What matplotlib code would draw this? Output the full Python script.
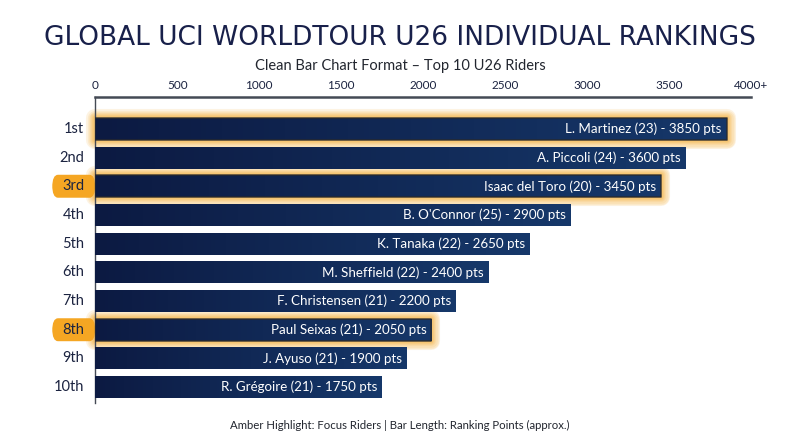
import matplotlib
matplotlib.use("Agg")
import matplotlib.pyplot as plt
import numpy as np
from matplotlib.patches import FancyBboxPatch, Rectangle
from matplotlib.colors import LinearSegmentedColormap

ranks = ["1st", "2nd", "3rd", "4th", "5th", "6th", "7th", "8th", "9th", "10th"]
riders = ["L. Martinez", "A. Piccoli", "Isaac del Toro", "B. O'Connor", "K. Tanaka",
          "M. Sheffield", "F. Christensen", "Paul Seixas", "J. Ayuso", "R. Grégoire"]
ages = [23, 24, 20, 25, 22, 22, 21, 21, 21, 21]
points = [3850, 3600, 3450, 2900, 2650, 2400, 2200, 2050, 1900, 1750]
glow = [True, False, True, False, False, False, False, True, False, False]
label_box = [False, False, True, False, False, False, False, True, False, False]
xticks = [0, 500, 1000, 1500, 2000, 2500, 3000, 3500, 4000]
xticklabels = ["0", "500", "1000", "1500", "2000", "2500", "3000", "3500", "4000+"]

NAVY = "#1b2340"
AMBER = "#f5a623"
FONT = ["Lato", "DejaVu Sans"]

fig = plt.figure(figsize=(8, 4.47), dpi=100)
fig.patch.set_facecolor("white")
ax = fig.add_axes([0.119, 0.098, 0.820, 0.685])
n = len(ranks)
XLIM = (0, 4000)
YLIM = (n - 1 + 0.56, -1.11)

bh = 0.77
grad = np.linspace(0, 1, 256).reshape(1, -1)
cmap = LinearSegmentedColormap.from_list("g", ["#0c1a42", "#16386a"])

for i, (p, h) in enumerate(zip(points, glow)):
    if h:
        widths = [13, 11, 9, 7, 5.5, 4, 3]
        for k, lw in enumerate(widths):
            r = Rectangle((0, i - bh / 2), p, bh, facecolor="none", edgecolor=AMBER,
                          linewidth=lw, alpha=0.13, zorder=2, clip_on=False,
                          joinstyle="round")
            ax.add_patch(r)
    rect = Rectangle((0, i - bh / 2), p, bh, facecolor="none", edgecolor="none", zorder=3)
    ax.add_patch(rect)
    im = ax.imshow(grad, extent=(0, p, i + bh / 2, i - bh / 2), cmap=cmap,
                   aspect="auto", zorder=3, interpolation="bicubic")
    im.set_clip_path(rect)
    if h:
        ax.add_patch(Rectangle((0, i - bh / 2), p, bh, facecolor="none",
                               edgecolor="#2b2a2a", linewidth=1.2, alpha=0.8,
                               zorder=3.5, joinstyle="round"))
    label = f"{riders[i]} ({ages[i]}) - {p} pts"
    ax.text(p - 30, i, label, ha="right", va="center", color="white",
            fontsize=9.6, family=FONT, zorder=5)

ax.set_xlim(*XLIM)
ax.set_ylim(*YLIM)

ax.xaxis.tick_top()
ax.set_xticks(xticks)
ax.set_xticklabels(xticklabels, fontsize=8.5, color=NAVY, family=FONT)
ax.tick_params(axis="x", length=0, pad=4)
ax.set_yticks(range(n))
ax.set_yticklabels([])
ax.tick_params(axis="y", length=0)
for s in ["right", "bottom"]:
    ax.spines[s].set_visible(False)
ax.spines["top"].set_color("#444a55")
ax.spines["top"].set_linewidth(1.8)
ax.spines["left"].set_color("#444a55")
ax.spines["left"].set_linewidth(1.0)

for i, (r, h) in enumerate(zip(ranks, label_box)):
    if h:
        box = FancyBboxPatch((-262, i - 0.40), 262, 0.80,
                             boxstyle="round,pad=0,rounding_size=35",
                             mutation_aspect=0.0125,
                             facecolor=AMBER, edgecolor="none", zorder=1,
                             clip_on=False, transform=ax.transData)
        ax.add_patch(box)
    ax.text(-67, i, r, ha="right", va="center", fontsize=10.5, color=NAVY,
            family=FONT, zorder=4, clip_on=False)

fig.text(0.5, 0.915, "GLOBAL UCI WORLDTOUR U26 INDIVIDUAL RANKINGS", ha="center",
         va="center", fontsize=19, color="#18204a", family=["DejaVu Sans"])
fig.text(0.5, 0.853, "Clean Bar Chart Format – Top 10 U26 Riders", ha="center",
         va="center", fontsize=10.5, color="#22262f", family=FONT)
fig.text(0.5, 0.049, "Amber Highlight: Focus Riders | Bar Length: Ranking Points (approx.)",
         ha="center", va="center", fontsize=8.2, color="#22262f", family=FONT)

fig.savefig("out.png", dpi=100, facecolor="white")
